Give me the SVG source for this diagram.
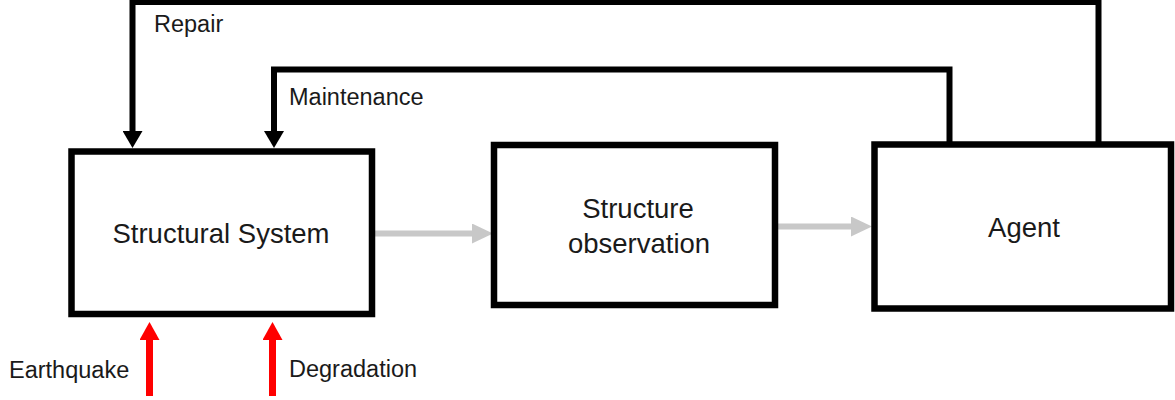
<svg xmlns="http://www.w3.org/2000/svg" width="1175" height="400" viewBox="0 0 1175 400">
  <style>
    .box { fill: #ffffff; stroke: #000000; stroke-width: 6.5; }
    .boxtext { font-family: "Liberation Sans", Arial, sans-serif; font-size: 27.5px; fill: #1a1a1a; text-anchor: middle; }
    .label { font-family: "Liberation Sans", Arial, sans-serif; font-size: 23.5px; fill: #1a1a1a; }
    .fb { fill: none; stroke: #000000; stroke-width: 6; stroke-linejoin: miter; }
    .obs { fill: none; stroke: #c8c8c8; stroke-width: 6; }
    .ext { fill: none; stroke: #ff0000; stroke-width: 7; }
  </style>
  <defs>
    <marker id="headBlack" markerUnits="userSpaceOnUse" markerWidth="17" markerHeight="20" viewBox="0 0 17 20" refX="7" refY="10" orient="auto">
      <path d="M0,0 L17,10 L0,20 Z" fill="#000000"/>
    </marker>
    <marker id="headGray" markerUnits="userSpaceOnUse" markerWidth="21" markerHeight="20" viewBox="0 0 21 20" refX="3" refY="10" orient="auto">
      <path d="M0,0 L21,10 L0,20 Z" fill="#c8c8c8"/>
    </marker>
    <marker id="headRed" markerUnits="userSpaceOnUse" markerWidth="18" markerHeight="20" viewBox="0 0 18 20" refX="3" refY="10" orient="auto">
      <path d="M0,0 L18,10 L0,20 Z" fill="#ff0000"/>
    </marker>
  </defs>

  <g id="connectors">
    <path id="repair" class="fb" d="M1098.5,144 V2 H132.5 V138" marker-end="url(#headBlack)"/>
    <path id="maintenance" class="fb" d="M949.5,144 V69.5 H274 V138" marker-end="url(#headBlack)"/>
    <path id="sys-to-obs" class="obs" d="M375,233.5 H475" marker-end="url(#headGray)"/>
    <path id="obs-to-agent" class="obs" d="M778,226.5 H854" marker-end="url(#headGray)"/>
    <path id="earthquake" class="ext" d="M149.5,396 V337" marker-end="url(#headRed)"/>
    <path id="degradation" class="ext" d="M272.5,396 V337" marker-end="url(#headRed)"/>
  </g>

  <g id="structural-system">
    <rect class="box" x="71.5" y="151.5" width="300.5" height="162.5"/>
    <text class="boxtext" x="221" y="243">Structural System</text>
  </g>

  <g id="structure-observation">
    <rect class="box" x="494" y="145" width="281" height="160"/>
    <text class="boxtext" x="638" y="218">Structure</text>
    <text class="boxtext" x="639" y="253">observation</text>
  </g>

  <g id="agent">
    <rect class="box" x="874.5" y="144.5" width="296.5" height="164"/>
    <text class="boxtext" x="1024" y="236.5">Agent</text>
  </g>

  <g id="labels">
    <text class="label" x="154" y="32">Repair</text>
    <text class="label" x="289" y="105">Maintenance</text>
    <text class="label" x="9" y="378">Earthquake</text>
    <text class="label" x="289" y="377">Degradation</text>
  </g>
</svg>
